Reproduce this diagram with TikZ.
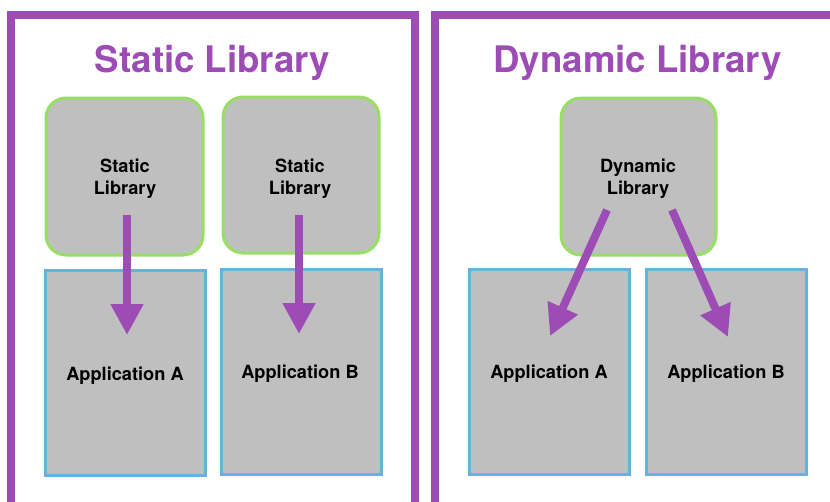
\documentclass[tikz,border=0pt]{standalone}
\usepackage{fontspec}
\setmainfont{TeX Gyre Heros}
\usetikzlibrary{arrows.meta}
\definecolor{framepurple}{RGB}{157,75,181}
\definecolor{libgreen}{RGB}{152,222,100}
\definecolor{appblue}{RGB}{104,176,222}
\definecolor{boxgray}{RGB}{191,191,191}
\tikzset{
  frameline/.style={draw=framepurple,line width=8pt},
  titletext/.style={text=framepurple,font=\fontsize{36.6}{40}\selectfont\bfseries,anchor=base,inner sep=0pt},
  libbox/.style={draw=libgreen,fill=boxgray,line width=3pt,rounded corners=20pt},
  appbox/.style={draw=appblue,fill=boxgray,line width=3pt},
  boxtext/.style={font=\fontsize{18.2}{22}\selectfont\bfseries,align=center,inner sep=0pt},
  apptext/.style={font=\fontsize{18.2}{22}\selectfont\bfseries,anchor=base,inner sep=0pt},
  linkarrow/.style={draw=framepurple,line width=8pt,line cap=butt,-{Triangle[width=31pt,length=31pt]}}
}
\begin{document}
\begin{tikzpicture}[x=1pt,y=-1pt]
\useasboundingbox (0,0) rectangle (830,501);
\fill[white] (0,0) rectangle (830,501);
\clip (0,0) rectangle (830,501);
% frames
\draw[frameline] (11,520) -- (11,15) -- (415,15) -- (415,520);
\draw[frameline] (434.5,520) -- (434.5,15) -- (850,15);
% titles
\node[titletext] (t1) at (212.5,72) {Static Library};
\node[titletext] (t2) at (637.5,72) {Dynamic Library};
% library boxes
\path[libbox] (46,98) rectangle (203,255);
\path[libbox] (223,97) rectangle (379,253);
\path[libbox] (561,98) rectangle (716,255);
\node[boxtext] (sl1) at (125,179) {Static\\Library};
\node[boxtext] (sl2) at (300,178.5) {Static\\Library};
\node[boxtext] (dl) at (638,179) {Dynamic\\Library};
% application boxes
\path[appbox] (45,270) rectangle (205,475);
\path[appbox] (221,269) rectangle (381,474);
\path[appbox] (469,269) rectangle (629,474);
\path[appbox] (646,269) rectangle (806,474);
\node[apptext] (aa1) at (125,380) {Application A};
\node[apptext] (ab1) at (300,378.5) {Application B};
\node[apptext] (aa2) at (549,378.5) {Application A};
\node[apptext] (ab2) at (726,378.5) {Application B};
% arrow ends
\coordinate (s1) at (127,215);
\coordinate (e1) at (127,335);
\coordinate (s2) at (299,215);
\coordinate (e2) at (299,334);
\coordinate (s3) at (607,210);
\coordinate (e3) at (550,336);
\coordinate (s4) at (672,210);
\coordinate (e4) at (728,337);
\draw[linkarrow] (s1) -- (e1);
\draw[linkarrow] (s2) -- (e2);
\draw[linkarrow] (s3) -- (e3);
\draw[linkarrow] (s4) -- (e4);
\end{tikzpicture}
\end{document}
